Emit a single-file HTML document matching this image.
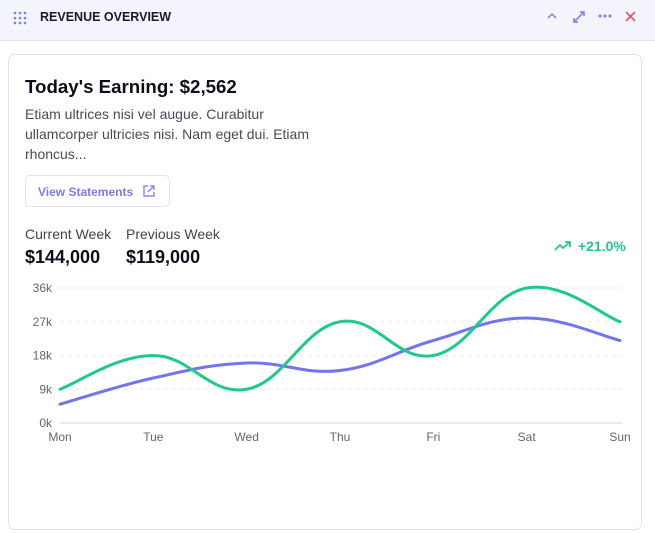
<!DOCTYPE html>
<html><head><meta charset="utf-8"><style>
*{box-sizing:border-box;margin:0;padding:0}
body{width:655px;height:533px;background:#fff;font-family:"Liberation Sans",sans-serif;position:relative;overflow:hidden;color:#111}
.hdr{position:absolute;left:0;top:0;width:655px;height:41px;background:#f4f4fd;border-bottom:1px solid #e2e4ee}
.card{position:absolute;left:8px;top:54px;width:634px;height:476px;border:1px solid #e2e5ee;border-radius:6px}
.abs{position:absolute;white-space:nowrap}
</style></head><body>
<div class="hdr">
 <svg class="abs" style="left:13px;top:11px" width="14" height="14">
  <g fill="#7c7cf0"><circle cx="2" cy="2" r="1.3"/><circle cx="7" cy="2" r="1.3"/><circle cx="12" cy="2" r="1.3"/><circle cx="2" cy="7" r="1.3"/><circle cx="7" cy="7" r="1.3"/><circle cx="12" cy="7" r="1.3"/><circle cx="2" cy="12" r="1.3"/><circle cx="7" cy="12" r="1.3"/><circle cx="12" cy="12" r="1.3"/></g></svg>
 <div class="abs" style="left:40px;top:10px;font-size:12.5px;font-weight:bold;color:#1a1a2e">REVENUE OVERVIEW</div>
 <svg class="abs" style="left:546px;top:11px" width="12" height="10"><path d="M2 7 L6 3 L10 7" fill="none" stroke="#7c7cf0" stroke-width="1.5"/></svg>
 <svg class="abs" style="left:571px;top:9px" width="16" height="16"><path d="M3 13 L13 3 M9 3 H13 V7 M3 9 V13 H7" fill="none" stroke="#7c7cf0" stroke-width="1.5"/></svg>
 <svg class="abs" style="left:598px;top:14px" width="14" height="5"><g fill="#7c7cf0"><circle cx="2" cy="2" r="1.5"/><circle cx="7" cy="2" r="1.5"/><circle cx="12" cy="2" r="1.5"/></g></svg>
 <svg class="abs" style="left:624px;top:10px" width="13" height="13"><path d="M2 2 L11 11 M11 2 L2 11" stroke="#f0506e" stroke-width="1.6"/></svg>
</div>
<div class="card"></div>
<div class="abs" style="left:25px;top:76px;font-size:18.7px;font-weight:bold;color:#0e0e1a">Today's Earning: $2,562</div>
<div class="abs" style="left:25px;top:104px;font-size:14px;line-height:20px;color:#4a4a5a;white-space:normal;width:300px">Etiam ultrices nisi vel augue. Curabitur ullamcorper ultricies nisi. Nam eget dui. Etiam rhoncus...</div>
<div class="abs" style="left:25px;top:175px;width:145px;height:32px;border:1px solid #e2e4f0;border-radius:5px">
 <span class="abs" style="left:12px;top:9px;font-size:12px;font-weight:bold;color:#7b7be8">View Statements</span>
 <svg class="abs" style="left:116px;top:8px" width="14" height="14"><path d="M6 2 H2 V12 H12 V8 M8 2 H12 V6 M12 2 L6 8" fill="none" stroke="#8c8cf0" stroke-width="1.5"/></svg>
</div>
<div class="abs" style="left:25px;top:226px;font-size:14px;color:#444">Current Week</div>
<div class="abs" style="left:25px;top:247px;font-size:18px;font-weight:bold;color:#0e0e1a">$144,000</div>
<div class="abs" style="left:126px;top:226px;font-size:14px;color:#444">Previous Week</div>
<div class="abs" style="left:126px;top:247px;font-size:18px;font-weight:bold;color:#0e0e1a">$119,000</div>
<div class="abs" style="left:554px;top:238px;font-size:14px;font-weight:bold;color:#1ec98a"><svg width="18" height="12" style="vertical-align:-1px;margin-right:6px"><path d="M1 10 L6 5 L9 8 L16 2 M11 2 H16 V7" fill="none" stroke="#1ec98a" stroke-width="1.8"/></svg>+21.0%</div>
<svg id="chart" class="abs" style="left:0;top:270px" width="655" height="180"></svg>
<script>
const days=["Mon","Tue","Wed","Thu","Fri","Sat","Sun"];
const currentWeek=[9,18,9,27,18,36,27];
const previousWeek=[5,12,16,14,22,28,22];
const yTicks=[0,9,18,27,36];
const svg=document.getElementById('chart');const NS='http://www.w3.org/2000/svg';
const x=i=>60+i*(560/(days.length-1));
const y=v=>153-v*(135/36);
function mk(t,a){const e=document.createElementNS(NS,t);for(const k in a)e.setAttribute(k,a[k]);svg.appendChild(e);return e;}
yTicks.forEach(t=>{
 const g=mk('line',{x1:60,x2:622,y1:y(t),y2:y(t),stroke:t===0?'#e6e8f2':'#ececf2','stroke-width':t===0?2:1.5,'stroke-dasharray':t===0?'':'3 5'});
 
 
 const l=mk('text',{x:52,y:y(t)+4,'text-anchor':'end','font-size':12,fill:'#666'});l.textContent=t+'k';
 
 
});
days.forEach((d,i)=>{const l=mk('text',{x:x(i),y:171,'text-anchor':'middle','font-size':12,fill:'#666'});l.textContent=d;
 
 });
function path(vals){
 const p=vals.map((v,i)=>[x(i),y(v)]);let d='M'+p[0];
 for(let i=0;i<p.length-1;i++){const p0=p[i-1]||p[i],p1=p[i],p2=p[i+1],p3=p[i+2]||p2;const k=0.2;
  d+=' C'+(p1[0]+(p2[0]-p0[0])*k)+','+(p1[1]+(p2[1]-p0[1])*k)+' '+(p2[0]-(p3[0]-p1[0])*k)+','+(p2[1]-(p3[1]-p1[1])*k)+' '+p2;}
 return d;}
const pv=mk('path',{d:path(previousWeek),fill:'none',stroke:'#7474ee','stroke-width':3,'stroke-linecap':'round'});


const cw=mk('path',{d:path(currentWeek),fill:'none',stroke:'#1ec98a','stroke-width':3,'stroke-linecap':'round'});


</script>
</body></html>
